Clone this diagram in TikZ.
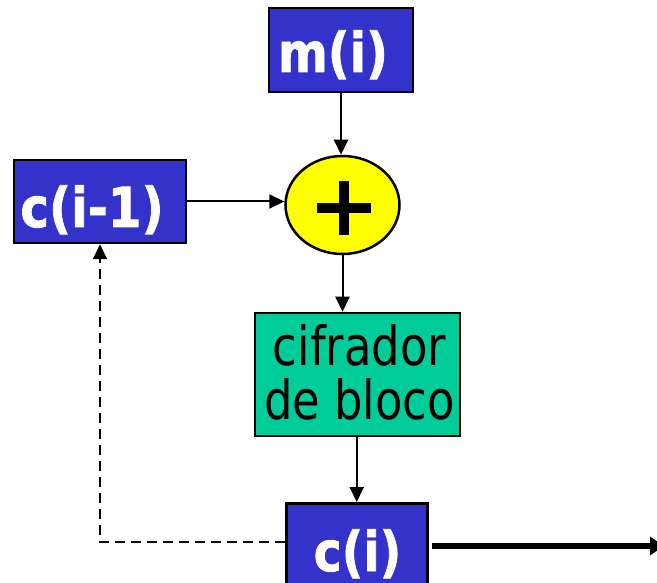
\documentclass[tikz,border=0pt]{standalone}
\usepackage{fontspec}
\setmainfont{DejaVu Sans}
\newfontfamily\heavyfont[FakeBold=1.5]{DejaVu Sans Bold}
\usetikzlibrary{arrows.meta,shapes.geometric}
\definecolor{boxblue}{HTML}{3333CC}
\definecolor{boxgreen}{HTML}{00CC99}
\definecolor{plusyellow}{HTML}{FFFF00}
\newcommand{\bluetxt}[2]{\scalebox{#1}[1]{\fontsize{55}{55}\heavyfont #2}}
\begin{document}
\begin{tikzpicture}[x=1pt,y=-1pt,
  bluebox/.style={draw=black,line width=2.5pt,fill=boxblue,inner sep=0pt},
  btext/.style={text=white,inner sep=0pt,anchor=base},
  arr/.style={line width=2pt,-{Triangle[length=15pt,width=14pt]}},
  dasharr/.style={line width=2pt,dash pattern=on 10pt off 6pt,-{Triangle[length=15pt,width=14pt]}}]
\useasboundingbox (0,0) rectangle (657,583);
\clip (0,0) rectangle (657,583);
% m(i)
\node[bluebox,minimum width=144pt,minimum height=84pt] (m) at (341,50) {};
\node[btext] (mtext) at (333,72) {\bluetxt{0.87}{m(i)}};
% c(i-1)
\node[bluebox,minimum width=172pt,minimum height=83pt] (cprev) at (100,201.5) {};
\node[btext] (cprevtext) at (92,227) {\bluetxt{0.88}{c(i-1)}};
% plus
\node[draw=black,line width=2.5pt,fill=plusyellow,ellipse,minimum width=114pt,minimum height=98pt,inner sep=0pt] (plus) at (342.5,205) {};
\coordinate (pc) at (344,208);
\draw[line width=9.5pt] ([xshift=-27pt]pc) -- ([xshift=27pt]pc);
\draw[line width=9.5pt] ([yshift=-27pt]pc) -- ([yshift=27pt]pc);
% cifrador
\node[draw=black,line width=2.5pt,fill=boxgreen,minimum width=205pt,minimum height=123pt,inner sep=0pt] (cif) at (357.5,374.5) {};
\node[text=black,inner sep=0pt,anchor=base] (ciftext) at (359.5,365) {\scalebox{0.83}[1]{\fontsize{54}{45}\selectfont\begin{tabular}[t]{@{}c@{}}cifrador\\de bloco\end{tabular}}};
% c(i)
\node[bluebox,minimum width=141pt,minimum height=100pt,anchor=north west] (ci) at (285,502) {};
\node[btext] (citext) at (357.5,571) {\bluetxt{0.86}{c(i)}};
% connectors
\coordinate (outend) at (664,546);
\coordinate (corner) at (100,542);
\draw[arr] (m.south) -- (m.south |- plus.north);
\draw[arr] (cprev.east) -- (plus.west |- cprev.east);
\draw[arr] (plus.south) -- (plus.south |- cif.north);
\draw[arr] (cif.south -| ci.north) -- (ci.north);
\draw[line width=6pt,-{Triangle[length=14pt,width=18pt]}] (432,546) -- (outend);
\draw[dasharr] (ci.west |- corner) -- (corner) -- (cprev.south);
\end{tikzpicture}
\end{document}
